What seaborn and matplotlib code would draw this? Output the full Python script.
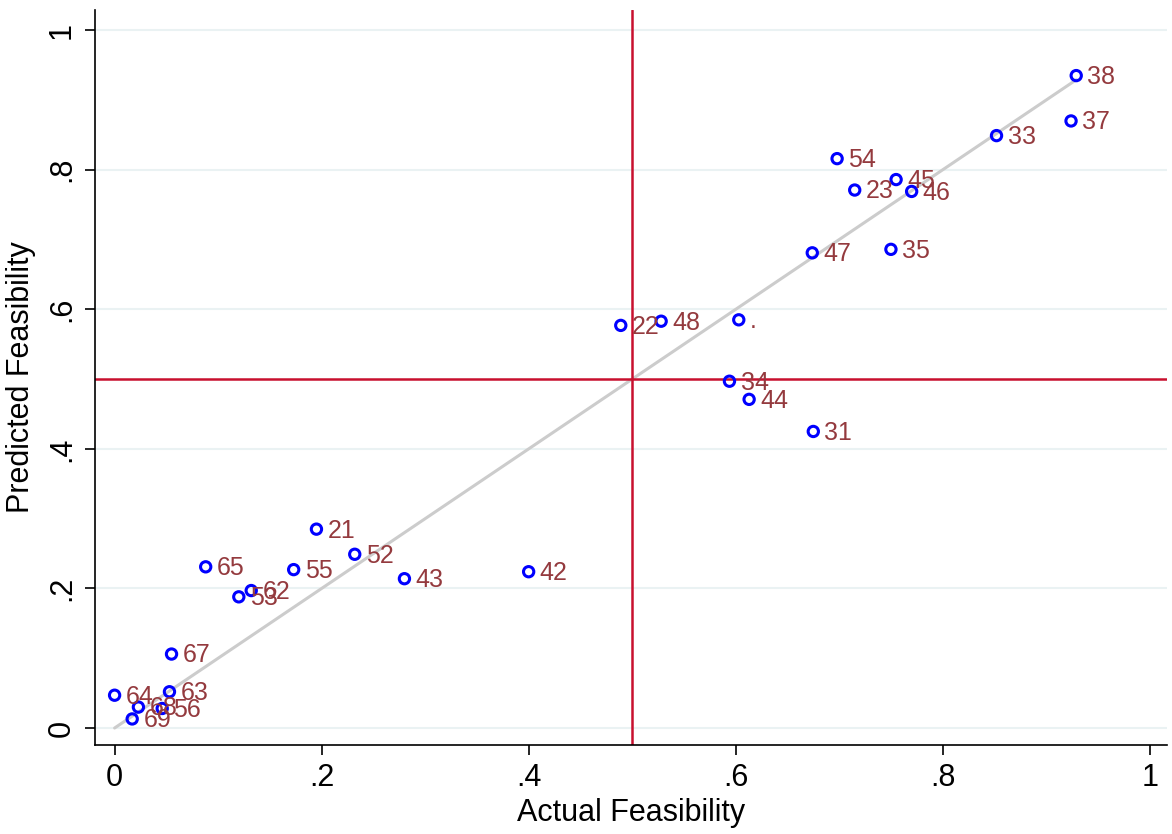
import matplotlib
matplotlib.use("Agg")
import matplotlib.pyplot as plt
import seaborn as sns
import pandas as pd

labels = ["67", "64", "63", "68", "56", "69", "21", "65", "55", "52", "43", "62", "53", "42",
          "22", "48", ".", "34", "44", "31", "38", "37", "33", "54", "45", "23", "46", "47", "35"]
actual = [0.055, 0.000, 0.053, 0.023, 0.046, 0.017, 0.195, 0.088, 0.173, 0.232, 0.280, 0.132, 0.120, 0.400,
          0.489, 0.528, 0.603, 0.594, 0.613, 0.675, 0.929, 0.924, 0.852, 0.698, 0.755, 0.715, 0.770, 0.674, 0.750]
predicted = [0.106, 0.047, 0.052, 0.030, 0.028, 0.013, 0.285, 0.231, 0.227, 0.249, 0.214, 0.197, 0.188, 0.224,
             0.577, 0.583, 0.585, 0.497, 0.471, 0.425, 0.935, 0.870, 0.849, 0.816, 0.786, 0.771, 0.769, 0.681, 0.686]

ticks = [0, 0.2, 0.4, 0.6, 0.8, 1]
tick_labels = ["0", ".2", ".4", ".6", ".8", "1"]

df = pd.DataFrame({"label": labels, "actual": actual, "predicted": predicted})

sns.set_style("white")
plt.rcParams["font.family"] = ["Liberation Sans", "DejaVu Sans"]

fig = plt.figure(figsize=(11.72, 8.34), dpi=100)
ax = fig.add_axes([0.081, 0.107, 0.915, 0.881])

# light horizontal grid
for t in ticks:
    ax.axhline(t, color="#eaf2f3", lw=1.5, zorder=0)

# 45 degree line over the range of the data
line_df = pd.DataFrame({"x": [0, df["actual"].max()], "y": [0, df["actual"].max()]})
sns.lineplot(data=line_df, x="x", y="y", ax=ax, color="#cccccc", lw=2.2, zorder=1)

ax.axvline(0.5, color="#c8102e", lw=1.8, zorder=2)
ax.axhline(0.5, color="#c8102e", lw=1.8, zorder=2)

sns.scatterplot(data=df, x="actual", y="predicted", ax=ax, s=55, facecolor="none",
                edgecolor="#0000ff", linewidth=2.2, zorder=3)

for _, r in df.iterrows():
    ax.annotate(r["label"], (r["actual"], r["predicted"]), xytext=(8, -1),
                textcoords="offset points", va="center", ha="left",
                fontsize=18, color="#943a3e", zorder=4)

ax.set_xlim(-0.019, 1.017)
ax.set_ylim(-0.024, 1.029)
ax.set_xticks(ticks)
ax.set_xticklabels(tick_labels)
ax.set_yticks(ticks)
ax.set_yticklabels(tick_labels, rotation=90, va="center")
ax.tick_params(axis="both", direction="out", length=7, width=1.2, labelsize=22,
               color="black", labelcolor="black", pad=6)
ax.tick_params(left=True, bottom=True)

ax.set_xlabel("Actual Feasibility", fontsize=22, labelpad=4, color="black")
ax.set_ylabel("Predicted Feasibility", fontsize=22, labelpad=8, color="black")

for s in ["top", "right"]:
    ax.spines[s].set_visible(False)
for s in ["left", "bottom"]:
    ax.spines[s].set_color("black")
    ax.spines[s].set_linewidth(1.2)

fig.savefig("out.png", dpi=100)
